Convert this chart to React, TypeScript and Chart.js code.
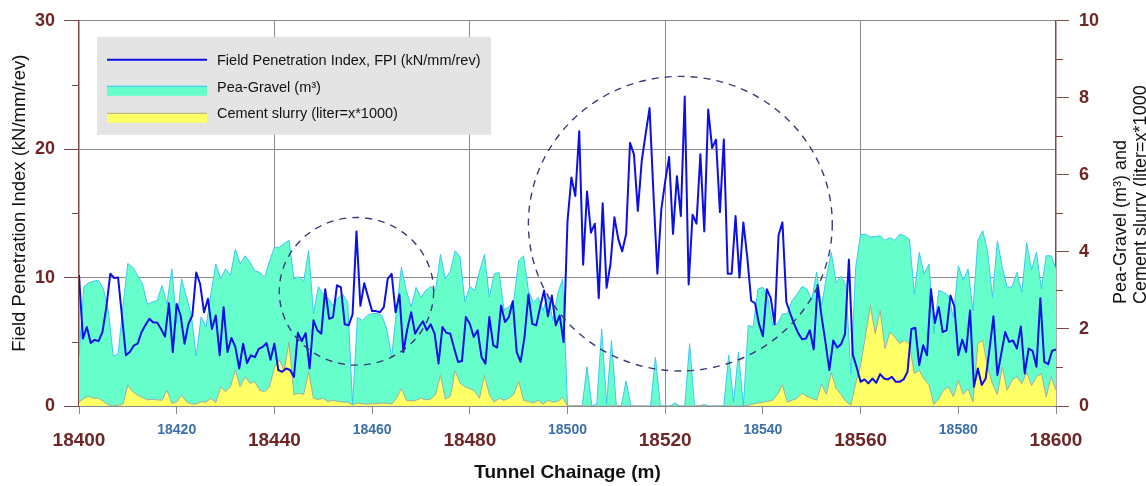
import React, { useEffect, useRef } from 'react';
import { Chart, registerables } from 'chart.js';

Chart.register(...registerables);

// ---------------- data ----------------
const CHAINAGE_START = 18400;
const CHAINAGE_END = 18600;
const X_MAJOR_TICKS = [18400, 18440, 18480, 18520, 18560, 18600];
const X_MINOR_TICKS = [18420, 18460, 18500, 18540, 18580];
const LEFT_MINOR_TICKS = [5, 15, 25];
const RIGHT_MINOR_TICKS = [1, 3, 5, 7, 9];

// Field Penetration Index (kN/mm/rev), evenly spaced from 18400 to 18600
const FPI = [
  10.2, 5.25, 6.15, 4.9, 5.15, 5.05, 5.75, 7.7, 10.3, 9.97,
  10.0, 7.0, 3.95, 4.2, 4.7, 4.85, 5.75, 6.3, 6.8, 6.5,
  6.5, 6.0, 5.4, 8.0, 4.2, 7.95, 7.05, 4.85, 6.4, 7.05,
  10.4, 9.5, 7.3, 8.35, 6.0, 7.05, 3.95, 7.7, 4.2, 5.3,
  4.6, 2.92, 4.85, 3.35, 3.95, 3.8, 4.45, 4.6, 4.9, 3.6,
  4.86, 2.8, 2.66, 2.92, 2.8, 2.27, 5.7, 5.06, 5.68, 2.92,
  6.67, 5.9, 5.63, 9.1, 6.8, 6.9, 9.4, 9.25, 6.36, 6.28,
  7.13, 13.6, 7.8, 9.56, 8.47, 7.39, 7.39, 7.3, 7.7, 9.9,
  10.3, 7.3, 8.68, 4.2, 6.0, 7.3, 5.63, 6.15, 6.6, 5.9,
  6.36, 5.63, 3.3, 6.15, 5.7, 5.63, 4.5, 3.43, 3.5, 6.93,
  6.4, 5.37, 5.9, 3.82, 3.3, 6.93, 4.73, 4.55, 7.83, 6.54,
  6.93, 8.16, 4.2, 3.44, 5.37, 8.68, 6.4, 6.28, 7.7, 9.0,
  6.98, 8.6, 6.28, 7.05, 4.98, 14.4,
  17.8, 16.36, 21.4, 11.0, 16.7, 13.5, 14.2, 8.4, 15.8, 9.2,
  11.06, 14.7, 13.0, 12.04, 13.4, 20.5, 19.6, 15.2, 19.1, 21.2,
  23.2, 16.5, 10.3, 15.3, 17.5, 19.4, 13.4, 17.9, 14.8, 24.1,
  9.46, 14.9, 14.2, 19.6, 13.6, 23.1, 20.1, 20.75, 15.1, 20.75,
  10.3, 10.3, 14.8, 10.0, 14.3, 11.6, 8.2, 8.0, 6.4, 5.43,
  9.1, 8.4, 6.36, 13.3, 14.3, 8.1, 7.2, 6.4, 5.7, 5.2,
  5.25, 5.9, 4.4, 9.4, 7.0, 5.0, 2.8, 5.1, 4.55, 4.8,
  5.6, 11.4, 4.0, 3.0, 1.88, 2.07, 1.76, 2.14, 1.81, 2.48,
  2.14, 2.07, 2.27, 1.88, 1.88, 2.07, 2.66, 6.0, 6.1, 3.18,
  4.73, 3.95, 9.1, 6.46, 7.7, 5.76, 5.9, 8.6, 7.75, 3.95,
  5.17, 4.21, 7.44, 1.5, 2.92, 1.63, 2.14, 4.47, 6.98, 2.4,
  4.08, 5.76, 4.99, 5.1, 4.47, 6.2, 2.53, 4.47, 4.3, 3.05,
  8.4, 3.43, 3.26, 4.3, 4.4,
];

// Pea-gravel (m3), one value per metre from 18400 to 18600 (right axis)
const PEA_GRAVEL = [
  1.3, 3.1, 3.2, 3.24, 3.26, 3.04, 2.48, 1.3, 1.34, 2.6,
  3.7, 3.6, 3.39, 3.17, 2.64, 2.7, 2.74, 3.13, 2.65, 3.56,
  2.14, 3.3, 2.83, 2.35, 1.3, 2.31, 2.05, 2.91, 3.69, 3.3,
  3.56, 3.39, 4.07, 3.69, 3.9, 3.73, 3.51, 3.47, 3.34, 3.76,
  4.12, 4.12, 4.22, 4.3, 3.3, 3.36, 3.24, 4.03, 2.4, 3.1,
  2.9, 2.8, 2.6, 2.8, 2.9, 2.7, 0.05, 2.3, 2.22, 2.35,
  2.4, 2.4, 2.35, 2.0, 1.27, 2.48, 3.6, 3.0, 2.57, 3.08,
  2.82, 3.0, 3.1, 3.0, 3.94, 3.3, 3.5, 4.03, 3.87, 2.7,
  3.1, 3.0, 3.5, 3.94, 2.82, 3.43, 3.47, 2.5, 2.57, 2.74,
  3.77, 3.9, 3.0, 2.69, 2.82, 2.48, 2.9, 2.22, 2.91, 3.3,
  0, 0, 0, 0, 1.02, 0, 0.05, 2.0, 0.05, 1.7,
  0, 0, 0.65, 0, 0, 0, 0, 0, 1.27, 0,
  0, 0, 0.08, 0, 0, 1.62, 0, 0, 0.04, 0,
  0, 0, 0, 1.32, 0.1, 1.4, 0, 2.09, 2.05, 3.04,
  3.08, 2.82, 2.1, 2.14, 2.39, 2.4, 2.74, 2.9, 3.1, 3.04,
  2.74, 3.48, 2.6, 3.34, 3.99, 3.2, 3.37, 3.15, 0.84, 3.6,
  4.45, 4.46, 4.39, 4.4, 4.42, 4.3, 4.37, 4.3, 4.46, 4.42,
  4.33, 2.9, 3.99, 3.43, 3.69, 1.88, 3.0, 2.95, 2.86, 2.3,
  3.64, 3.26, 3.56, 2.48, 4.3, 4.55, 4.0, 2.82, 4.29, 3.6,
  3.08, 3.1, 3.47, 2.95, 4.24, 3.53, 3.99, 3.04, 3.9, 3.9,
  3.56,
];

// Cement slurry (liter = x*1000), one value per metre (right axis)
const CEMENT_SLURRY = [
  0.1, 0.2, 0.25, 0.2, 0.2, 0.12, 0.03, 0.0, 0.02, 0.05,
  0.54, 0.37, 0.28, 0.22, 0.16, 0.17, 0.16, 0.15, 0.41, 0.07,
  0.11, 0.28, 0.11, 0.05, 0.05, 0.11, 0.1, 0.2, 0.09, 0.5,
  0.37, 0.5, 0.93, 0.5, 0.76, 0.59, 0.63, 0.41, 0.37, 0.5,
  1.0, 1.2, 0.93, 1.66, 0.3, 0.33, 0.3, 0.89, 0.2, 0.17,
  0.2, 0.11, 0.15, 0.12, 0.1, 0.1, 0.03, 0.08, 0.06, 0.05,
  0.06, 0.06, 0.08, 0.07, 0.05, 0.2, 0.46, 0.15, 0.13, 0.15,
  0.2, 0.16, 0.18, 0.3, 0.8, 0.18, 0.25, 0.91, 0.6, 0.5,
  0.45, 0.38, 0.2, 0.8, 0.3, 0.1, 0.2, 0.15, 0.2, 0.3,
  0.65, 0.15, 0.12, 0.08, 0.15, 0.05, 0.15, 0.1, 0.12, 0.22,
  0, 0, 0.02, 0, 0, 0, 0, 0, 0, 0,
  0.02, 0, 0, 0, 0, 0, 0, 0, 0, 0,
  0, 0, 0, 0, 0, 0, 0, 0.02, 0, 0,
  0, 0, 0, 0, 0, 0, 0, 0.02, 0.05, 0.08,
  0.1, 0.12, 0.15, 0.3, 0.55, 0.1, 0.15, 0.2, 0.33, 0.25,
  0.2, 0.15, 0.57, 0.3, 0.87, 0.45, 0.3, 0.12, 0.02, 0.6,
  1.05, 1.83, 2.61, 1.88, 2.48, 1.49, 1.92, 1.79, 1.62, 1.71,
  1.6, 0.84, 0.93, 0.7, 0.55, 0.04, 0.19, 0.41, 0.5, 0.24,
  0.67, 0.3, 0.45, 0.11, 1.62, 1.71, 1.0, 0.58, 0.3, 1.01,
  0.41, 0.67, 0.76, 0.58, 0.88, 0.53, 0.76, 0.84, 0.24, 0.76,
  0.41,
];

// dashed highlight circles (centre chainage / FPI, half extents in data units)
const HIGHLIGHT_CIRCLES = [
  { chainage: 18456.8, fpi: 8.93, halfWidth: 15.8, halfHeight: 5.75 },
  { chainage: 18523.1, fpi: 14.2, halfWidth: 31.1, halfHeight: 11.47 },
];

const LEGEND_LABELS = [
  'Field Penetration Index, FPI (kN/mm/rev)',
  'Pea-Gravel (m\u00b3)',
  'Cement slurry (liter=x*1000)',
];
const LEFT_TITLE = 'Field Penetration Index (kN/mm/rev)';
const RIGHT_TITLE = ['Pea-Gravel (m\u00b3) and', 'Cement slurry (liter=x*1000'];

// ---------------- styles ----------------
const FONT = "'Liberation Sans', Arial, Helvetica, sans-serif";
const BROWN = '#6e2626';
const AXIS_BROWN = '#7d4848';
const MINOR_BLUE = '#3c6ea8';
const GRID = '#8a8a8a';
const FPI_BLUE = '#0c10e6';
const GRAVEL_FILL = '#66ffcc';
const GRAVEL_EDGE = '#3cc8f0';
const CEMENT_FILL = '#ffff66';
const CEMENT_EDGE = '#a8a8a0';

const toPoints = (vals: number[]) =>
  vals.map((v, i) => ({
    x: CHAINAGE_START + (i * (CHAINAGE_END - CHAINAGE_START)) / (vals.length - 1),
    y: v,
  }));

const isMajorX = (v: number) => X_MAJOR_TICKS.includes(v);

const decorPlugin = {
  id: 'decor',
  afterDatasetsDraw(chart: any) {
    const { ctx, scales, chartArea } = chart;
    const xs = scales.x;
    const ys = scales.y;
    // dashed circles
    ctx.save();
    ctx.setLineDash([7, 6]);
    ctx.strokeStyle = '#3a3a78';
    ctx.lineWidth = 1.4;
    for (const c of HIGHLIGHT_CIRCLES) {
      const cx = xs.getPixelForValue(c.chainage);
      const cy = ys.getPixelForValue(c.fpi);
      const rx = Math.abs(xs.getPixelForValue(c.chainage + c.halfWidth) - cx);
      const ry = Math.abs(ys.getPixelForValue(c.fpi + c.halfHeight) - cy);
      ctx.beginPath();
      ctx.ellipse(cx, cy, rx, ry, 0, 0, Math.PI * 2);
      ctx.stroke();
    }
    ctx.restore();

    // legend box
    const lx = chartArea.left + 18;
    const ly = chartArea.top + 16;
    ctx.save();
    ctx.fillStyle = '#e4e4e4';
    ctx.fillRect(lx, ly, 394, 98);
    const sx = lx + 10;
    const sw = 100;
    ctx.strokeStyle = FPI_BLUE;
    ctx.lineWidth = 2;
    ctx.beginPath();
    ctx.moveTo(sx, ly + 23);
    ctx.lineTo(sx + sw, ly + 23);
    ctx.stroke();
    ctx.fillStyle = GRAVEL_FILL;
    ctx.fillRect(sx, ly + 49, sw, 10);
    ctx.strokeStyle = GRAVEL_EDGE;
    ctx.lineWidth = 1;
    ctx.beginPath();
    ctx.moveTo(sx, ly + 49.5);
    ctx.lineTo(sx + sw, ly + 49.5);
    ctx.stroke();
    ctx.fillStyle = CEMENT_FILL;
    ctx.fillRect(sx, ly + 76, sw, 10);
    ctx.strokeStyle = CEMENT_EDGE;
    ctx.beginPath();
    ctx.moveTo(sx, ly + 76.5);
    ctx.lineTo(sx + sw, ly + 76.5);
    ctx.stroke();
    ctx.fillStyle = '#111';
    ctx.font = `14.5px ${FONT}`;
    ctx.textBaseline = 'middle';
    ctx.textAlign = 'left';
    ctx.fillText(LEGEND_LABELS[0], sx + sw + 10, ly + 24);
    ctx.fillText(LEGEND_LABELS[1], sx + sw + 10, ly + 51);
    ctx.fillText(LEGEND_LABELS[2], sx + sw + 10, ly + 77);
    ctx.restore();
  },
  afterDraw(chart: any) {
    const { ctx, scales } = chart;
    const yl = scales.y;
    const yr = scales.y2;
    ctx.save();
    ctx.strokeStyle = AXIS_BROWN;
    ctx.lineWidth = 1;
    for (const v of LEFT_MINOR_TICKS) {
      const p = Math.round(yl.getPixelForValue(v)) + 0.5;
      ctx.beginPath();
      ctx.moveTo(yl.right - 7, p);
      ctx.lineTo(yl.right, p);
      ctx.stroke();
    }
    for (const v of RIGHT_MINOR_TICKS) {
      const p = Math.round(yr.getPixelForValue(v)) + 0.5;
      ctx.beginPath();
      ctx.moveTo(yr.left, p);
      ctx.lineTo(yr.left + 7, p);
      ctx.stroke();
    }
    ctx.restore();

    // left axis title (reads bottom to top, centred slightly above mid-axis)
    ctx.save();
    ctx.fillStyle = '#111';
    ctx.font = `18.5px ${FONT}`;
    ctx.textAlign = 'center';
    ctx.textBaseline = 'middle';
    ctx.translate(20, yl.getPixelForValue(15.8));
    ctx.rotate(-Math.PI / 2);
    ctx.fillText(LEFT_TITLE, 0, 0);
    ctx.restore();

    // right axis title (reads bottom to top)
    ctx.save();
    ctx.fillStyle = '#111';
    ctx.font = `18px ${FONT}`;
    ctx.textAlign = 'left';
    ctx.textBaseline = 'middle';
    ctx.translate(yr.left + 65, yl.getPixelForValue(7.95));
    ctx.rotate(-Math.PI / 2);
    ctx.fillText(RIGHT_TITLE[0], 0, 0);
    ctx.fillText(RIGHT_TITLE[1], 0, 20);
    ctx.restore();
  },
};

export default function App() {
  const canvasRef = useRef<HTMLCanvasElement | null>(null);

  useEffect(() => {
    const canvas = canvasRef.current;
    if (!canvas) return;
    Chart.defaults.font.family = FONT;
    Chart.defaults.color = '#111';

    const chart = new Chart(canvas, {
      type: 'line',
      data: {
        datasets: [
          {
            label: LEGEND_LABELS[0],
            data: toPoints(FPI),
            yAxisID: 'y',
            borderColor: FPI_BLUE,
            borderWidth: 2,
            pointRadius: 0,
            fill: false,
            tension: 0,
            borderJoinStyle: 'round',
          },
          {
            label: LEGEND_LABELS[2],
            data: toPoints(CEMENT_SLURRY),
            yAxisID: 'y2',
            borderColor: CEMENT_EDGE,
            backgroundColor: CEMENT_FILL,
            borderWidth: 1,
            pointRadius: 0,
            fill: 'origin',
            tension: 0,
          },
          {
            label: LEGEND_LABELS[1],
            data: toPoints(PEA_GRAVEL),
            yAxisID: 'y2',
            borderColor: GRAVEL_EDGE,
            backgroundColor: GRAVEL_FILL,
            borderWidth: 1,
            pointRadius: 0,
            fill: 'origin',
            tension: 0,
          },
        ],
      },
      options: {
        responsive: false,
        maintainAspectRatio: false,
        animation: false,
        devicePixelRatio: 1,
        events: [],
        layout: { padding: { top: 19, left: 0, right: 0, bottom: 0 } },
        plugins: {
          legend: { display: false },
          tooltip: { enabled: false },
        },
        scales: {
          x: {
            type: 'linear',
            position: 'bottom',
            min: CHAINAGE_START,
            max: CHAINAGE_END,
            afterBuildTicks: (s: any) => {
              s.ticks = [...X_MAJOR_TICKS, ...X_MINOR_TICKS]
                .sort((a, b) => a - b)
                .map((v) => ({ value: v }));
            },
            ticks: {
              autoSkip: false,
              maxRotation: 0,
              minRotation: 0,
              padding: 8,
              callback: (v: any) => String(v),
              color: (c: any) => (c.tick && isMajorX(c.tick.value) ? BROWN : MINOR_BLUE),
              font: (c: any) =>
                c.tick && isMajorX(c.tick.value)
                  ? { size: 19, weight: 'bold', lineHeight: 1.95 }
                  : { size: 14, weight: 'bold', lineHeight: 1.2 },
            },
            grid: {
              color: (c: any) =>
                c.tick && isMajorX(c.tick.value) && c.tick.value !== CHAINAGE_START && c.tick.value !== CHAINAGE_END
                  ? GRID
                  : 'rgba(0,0,0,0)',
              tickColor: GRID,
              tickLength: 8,
              lineWidth: 1,
            },
            border: { color: GRID, width: 1 },
            title: {
              display: true,
              text: 'Tunnel Chainage (m)',
              color: '#111',
              font: { size: 19, weight: 'bold' },
              padding: { top: 0, bottom: 2 },
            },
            afterFit: (s: any) => {
              s.height = 80;
            },
          },
          y: {
            position: 'left',
            min: 0,
            max: 30,
            ticks: {
              stepSize: 10,
              padding: 9,
              color: BROWN,
              font: { size: 18, weight: 'bold' },
            },
            grid: { color: GRID, tickColor: AXIS_BROWN, tickLength: 15, lineWidth: 1 },
            border: { color: AXIS_BROWN, width: 1.5 },
            afterFit: (s: any) => {
              s.width = 79;
            },
          },
          y2: {
            position: 'right',
            min: 0,
            max: 10,
            ticks: {
              stepSize: 2,
              padding: 10,
              color: BROWN,
              font: { size: 18, weight: 'bold' },
            },
            grid: { drawOnChartArea: false, tickColor: AXIS_BROWN, tickLength: 13 },
            border: { color: AXIS_BROWN, width: 1.5 },
            afterFit: (s: any) => {
              s.width = 90;
            },
          },
        },
      },
      plugins: [decorPlugin],
    } as any);

    return () => chart.destroy();
  }, []);

  return (
    <div style={{ position: 'absolute', left: 0, top: 0, width: 1146, height: 486, background: '#fff' }}>
      <canvas ref={canvasRef} width={1146} height={486} style={{ display: 'block', width: 1146, height: 486 }} />
    </div>
  );
}
